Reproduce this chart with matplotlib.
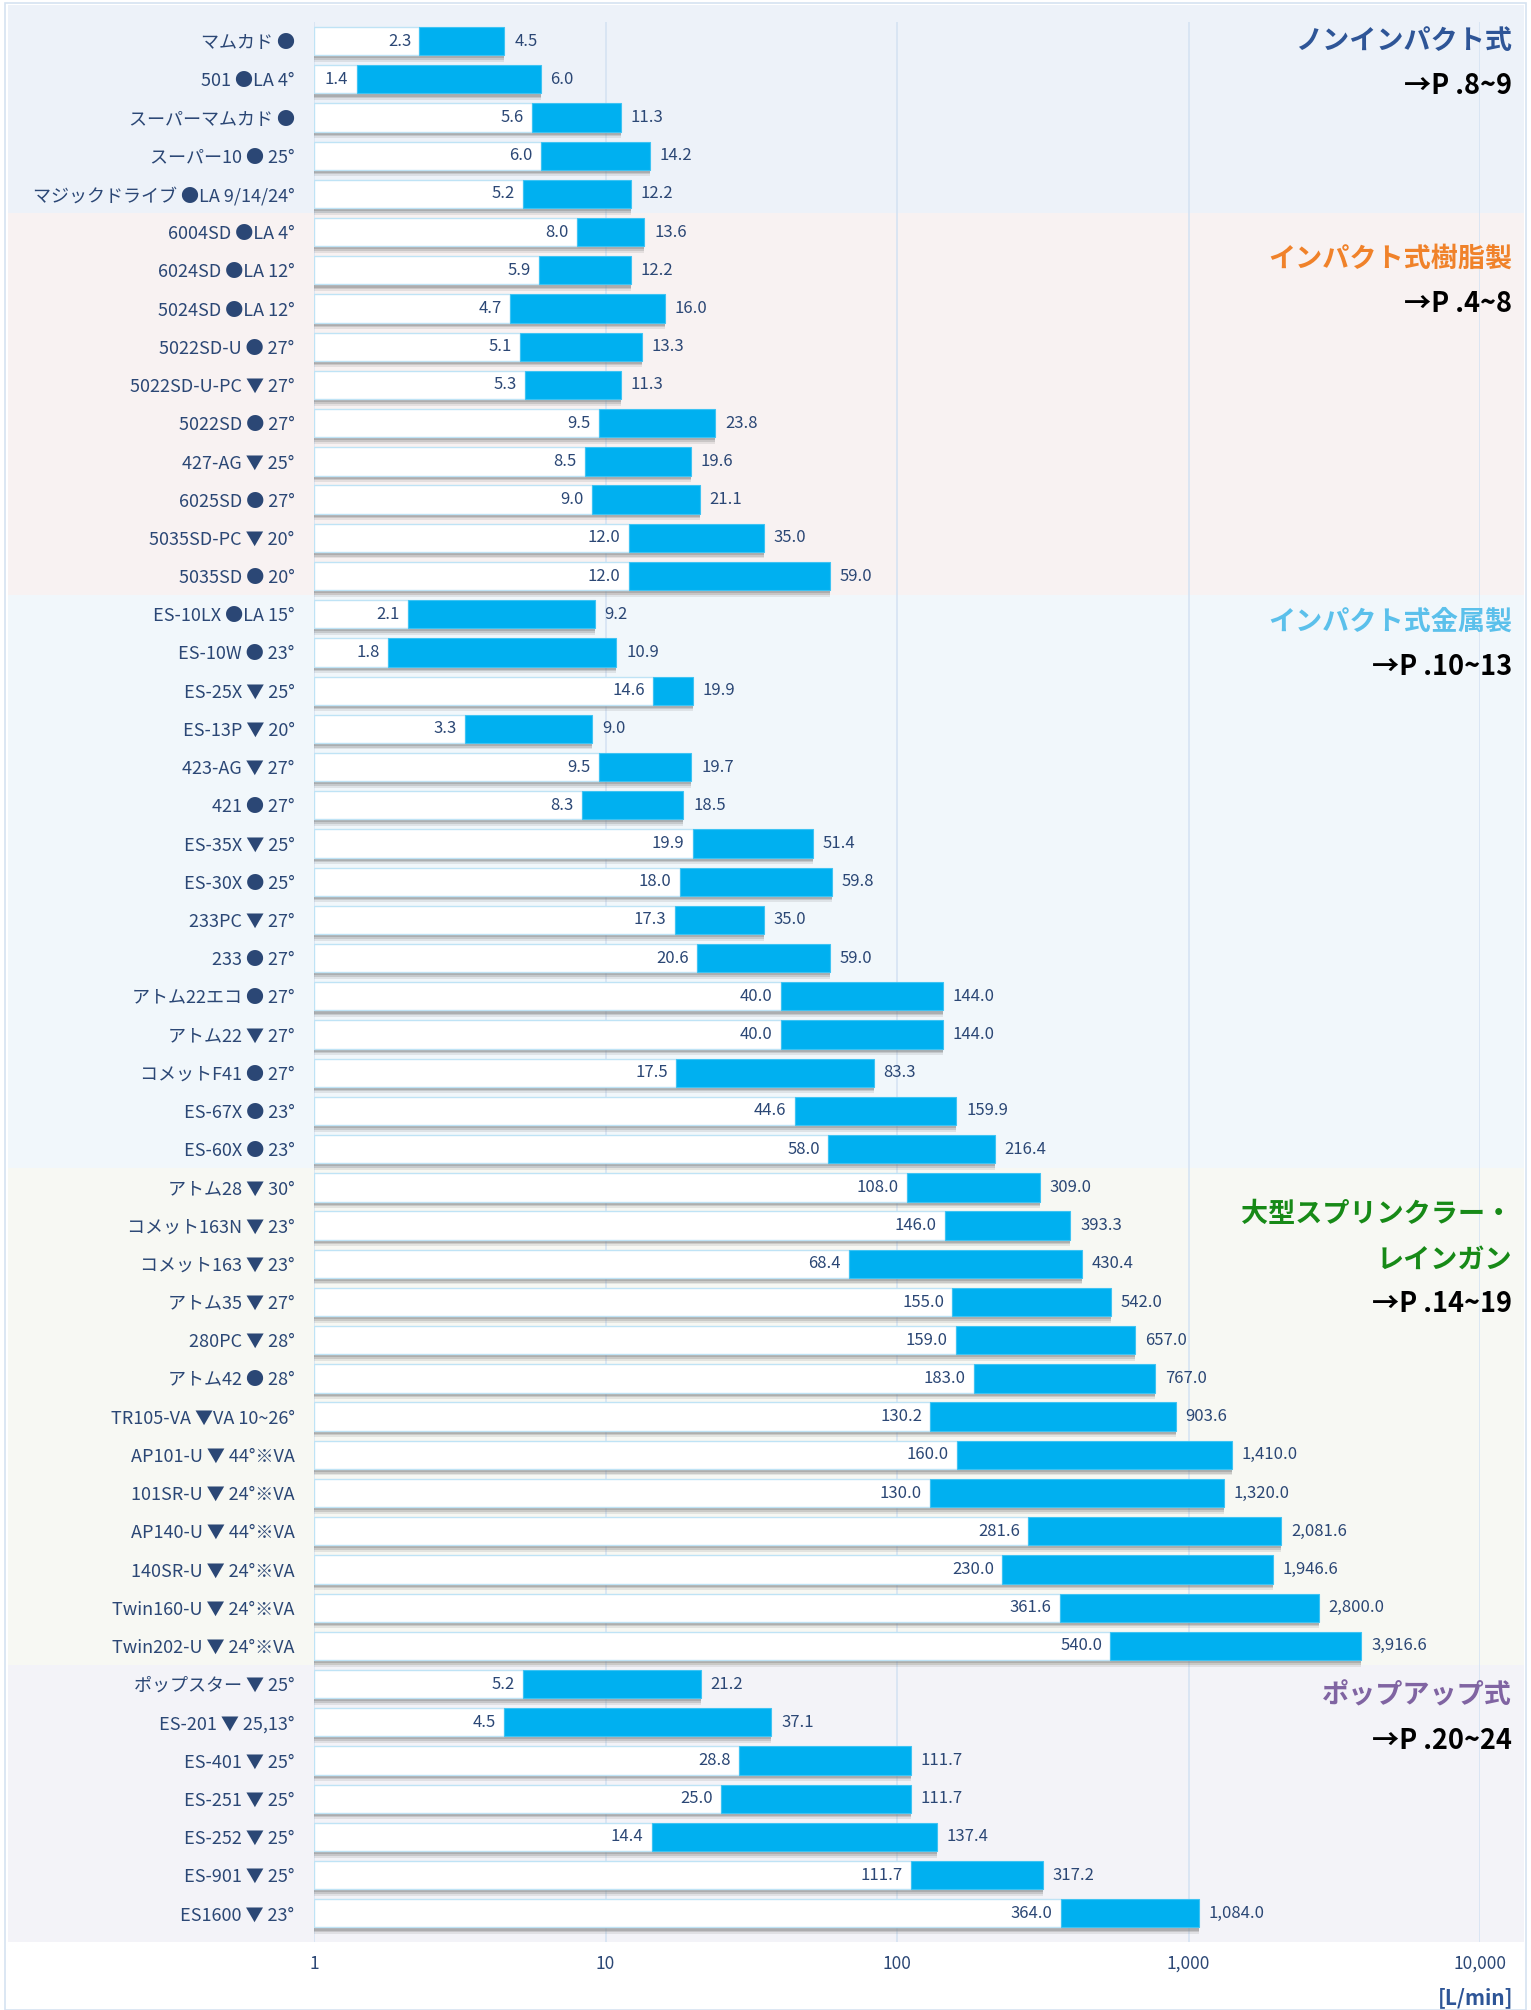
"""Flow-rate ranges of sprinkler models, log-scale range bars."""

import matplotlib

matplotlib.use("Agg")
import matplotlib.pyplot as plt
from matplotlib.patches import Rectangle
from matplotlib.ticker import FixedLocator, NullLocator

plt.rcParams["font.family"] = ["Noto Sans CJK JP", "DejaVu Sans"]

# ---- data -----------------------------------------------------------------
labels = [
    "マムカド ●", "501 ●LA 4°", "スーパーマムカド ●", "スーパー10 ● 25°",
    "マジックドライブ ●LA 9/14/24°",
    "6004SD ●LA 4°", "6024SD ●LA 12°", "5024SD ●LA 12°", "5022SD-U ● 27°",
    "5022SD-U-PC ▼ 27°", "5022SD ● 27°", "427-AG ▼ 25°", "6025SD ● 27°",
    "5035SD-PC ▼ 20°", "5035SD ● 20°",
    "ES-10LX ●LA 15°", "ES-10W ● 23°", "ES-25X ▼ 25°", "ES-13P ▼ 20°",
    "423-AG ▼ 27°", "421 ● 27°", "ES-35X ▼ 25°", "ES-30X ● 25°",
    "233PC ▼ 27°", "233 ● 27°", "アトム22エコ ● 27°", "アトム22 ▼ 27°",
    "コメットF41 ● 27°", "ES-67X ● 23°", "ES-60X ● 23°",
    "アトム28 ▼ 30°", "コメット163N ▼ 23°", "コメット163 ▼ 23°",
    "アトム35 ▼ 27°", "280PC ▼ 28°", "アトム42 ● 28°",
    "TR105-VA ▼VA 10~26°", "AP101-U ▼ 44°※VA", "101SR-U ▼ 24°※VA",
    "AP140-U ▼ 44°※VA", "140SR-U ▼ 24°※VA", "Twin160-U ▼ 24°※VA",
    "Twin202-U ▼ 24°※VA",
    "ポップスター ▼ 25°", "ES-201 ▼ 25,13°", "ES-401 ▼ 25°", "ES-251 ▼ 25°",
    "ES-252 ▼ 25°", "ES-901 ▼ 25°", "ES1600 ▼ 23°",
]
flow_min = [
    2.3, 1.4, 5.6, 6.0, 5.2,
    8.0, 5.9, 4.7, 5.1, 5.3, 9.5, 8.5, 9.0, 12.0, 12.0,
    2.1, 1.8, 14.6, 3.3, 9.5, 8.3, 19.9, 18.0, 17.3, 20.6, 40.0, 40.0, 17.5,
    44.6, 58.0,
    108.0, 146.0, 68.4, 155.0, 159.0, 183.0, 130.2, 160.0, 130.0, 281.6,
    230.0, 361.6, 540.0,
    5.2, 4.5, 28.8, 25.0, 14.4, 111.7, 364.0,
]
flow_max = [
    4.5, 6.0, 11.3, 14.2, 12.2,
    13.6, 12.2, 16.0, 13.3, 11.3, 23.8, 19.6, 21.1, 35.0, 59.0,
    9.2, 10.9, 19.9, 9.0, 19.7, 18.5, 51.4, 59.8, 35.0, 59.0, 144.0, 144.0,
    83.3, 159.9, 216.4,
    309.0, 393.3, 430.4, 542.0, 657.0, 767.0, 903.6, 1410.0, 1320.0, 2081.6,
    1946.6, 2800.0, 3916.6,
    21.2, 37.1, 111.7, 111.7, 137.4, 317.2, 1084.0,
]
group_names = ["ノンインパクト式", "インパクト式樹脂製", "インパクト式金属製",
               "大型スプリンクラー・\nレインガン", "ポップアップ式"]
group_pages = ["→P .8~9", "→P .4~8", "→P .10~13", "→P .14~19", "→P .20~24"]
group_sizes = [5, 10, 15, 13, 7]
x_ticks = [1, 10, 100, 1000, 10000]
x_ticklabels = ["1", "10", "100", "1,000", "10,000"]

# ---- styling --------------------------------------------------------------
BAND_COLORS = ["#EDF2F9", "#F8F2F2", "#F1F7FB", "#F7F8F3", "#F3F3F8"]
TITLE_COLORS = ["#2E5597", "#F0822A", "#5BC0EB", "#178A17", "#8064A2"]
TITLE_ROWS = [0.0, 5.7, 15.2, 30.7, 43.3]
LINE_STEP = 1.18
NAVY = "#2B4775"
BLUE = "#00B0F0"

W, H = 1531, 2010
fig = plt.figure(figsize=(W / 100, H / 100), dpi=100)
fig.patch.set_facecolor("white")
ax = fig.add_axes([314 / W, 1 - 1942 / H, (1480 - 314) / W, (1942 - 22) / H])
ax.set_xscale("log")
ax.set_xlim(1, 10000)
n = len(labels)
ax.set_ylim(n - 0.25, -0.5)
ax.set_facecolor("none")
for s in ax.spines.values():
    s.set_visible(False)

# figure frame
fig.patches.append(Rectangle((5 / W, 0), 1521 / W, 1 - 3 / H, transform=fig.transFigure,
                             facecolor="none", edgecolor="#D5E3F1", lw=1.2, zorder=0))

# group background bands and titles
ytr = ax.get_yaxis_transform()
band_left = (8 - 314) / 1166
band_right = (1524 - 314) / 1166
title_x = (1512 - 314) / 1166
start = 0
for gi, size in enumerate(group_sizes):
    top = start - 0.5 if gi > 0 else -0.95
    bottom = start + size - 0.5 if gi < len(group_sizes) - 1 else n - 0.25
    ax.add_patch(Rectangle((band_left, top), band_right - band_left, bottom - top,
                           transform=ytr, facecolor=BAND_COLORS[gi], edgecolor="none",
                           clip_on=False, zorder=0))
    y = TITLE_ROWS[gi]
    for line in group_names[gi].split("\n"):
        ax.text(title_x, y, line, transform=ytr, ha="right", va="center",
                fontsize=19.5, fontweight="bold", color=TITLE_COLORS[gi], zorder=5)
        y += LINE_STEP
    ax.text(title_x, y, group_pages[gi], transform=ytr, ha="right", va="center",
            fontsize=19.5, fontweight="bold", color="black", zorder=5)
    start += size

# vertical grid
for xv in x_ticks:
    ax.axvline(xv, color="#D3E2F2", lw=1.1, zorder=1)

rows = list(range(n))
bar_h = 0.74
# soft shadow under each bar
for off, alpha in [(0.17, 0.16), (0.12, 0.26), (0.08, 0.36)]:
    ax.barh([r + off for r in rows], [m - 1 for m in flow_max], left=1, height=bar_h,
            color="#7F7F7F", alpha=alpha, edgecolor="none", zorder=2)
ax.barh(rows, [m - 1 for m in flow_min], left=1, height=bar_h, color="white",
        edgecolor="#BFE3F5", lw=1.0, zorder=3)
ax.barh(rows, [hi - lo for lo, hi in zip(flow_min, flow_max)], left=flow_min,
        height=bar_h, color=BLUE, edgecolor="#3EC3F3", lw=0.8, zorder=3)

for r, lo, hi in zip(rows, flow_min, flow_max):
    ax.annotate(f"{lo:,.1f}", xy=(lo, r), xytext=(-6, 0), textcoords="offset points",
                ha="right", va="center", fontsize=12, color=NAVY, zorder=4)
    ax.annotate(f"{hi:,.1f}", xy=(hi, r), xytext=(7, 0), textcoords="offset points",
                ha="left", va="center", fontsize=12, color=NAVY, zorder=4)

ax.yaxis.set_major_locator(FixedLocator(rows))
ax.set_yticklabels(labels, fontsize=13, color=NAVY)
ax.tick_params(axis="y", length=0, pad=14)
ax.xaxis.set_major_locator(FixedLocator(x_ticks))
ax.xaxis.set_minor_locator(NullLocator())
ax.set_xticklabels(x_ticklabels, fontsize=12.5, color=NAVY)
ax.tick_params(axis="x", length=0, pad=9)

fig.text(1513 / W, 1 - 1998 / H, "[L/min]", ha="right", va="center", fontsize=15,
         fontweight="bold", color="#2E5597")

fig.savefig("out.png", dpi=100)
